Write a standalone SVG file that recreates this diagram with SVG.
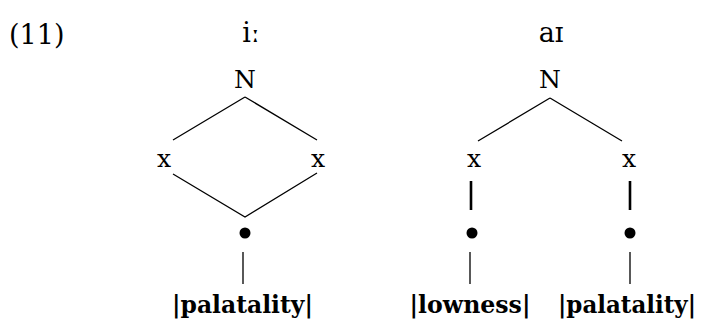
<svg xmlns="http://www.w3.org/2000/svg" width="704" height="323" viewBox="0 0 704 323">
<style>
text{font-family:"DejaVu Serif","Liberation Serif",serif;font-size:25px;fill:#000}
.c{text-anchor:middle}
.t{font-size:27px}
.b{font-weight:bold;font-size:24px}
.ln{stroke:#000;stroke-width:1.3;fill:none}
.th{stroke:#000;stroke-width:2.6;fill:none}
</style>
<rect width="704" height="323" fill="#fff"/>
<g id="label"><text class="t" x="9" y="44">(11)</text></g>
<g id="title-left"><text class="c t" x="251" y="42">iː</text></g>
<g id="title-right"><text class="c t" x="551" y="42">aɪ</text></g>
<g id="N1"><text class="c" x="245" y="88">N</text></g>
<g id="N2"><text class="c" x="550" y="88">N</text></g>
<g id="x1"><text class="c" x="164" y="167">x</text></g>
<g id="x2"><text class="c" x="318" y="167">x</text></g>
<g id="x3"><text class="c" x="474" y="167">x</text></g>
<g id="x4"><text class="c" x="629" y="167">x</text></g>
<g id="dot1"><circle cx="245" cy="233" r="5.5"/></g>
<g id="dot2"><circle cx="472" cy="233" r="5.5"/></g>
<g id="dot3"><circle cx="630" cy="233" r="5.5"/></g>
<g id="el1"><text class="c b" x="242.5" y="313" textLength="141" lengthAdjust="spacingAndGlyphs">|palatality|</text></g>
<g id="el2"><text class="c b" x="470" y="313" textLength="121" lengthAdjust="spacingAndGlyphs">|lowness|</text></g>
<g id="el3"><text class="c b" x="627" y="313" textLength="138" lengthAdjust="spacingAndGlyphs">|palatality|</text></g>
<g id="connectors">
<path class="ln" d="M245,97 L173,140 M245,97 L317,140"/>
<path class="ln" d="M550,98 L478,141 M550,98 L622,141"/>
<path class="ln" d="M173,174 L245,217 L317,173"/>
<path class="th" d="M471,181 V210 M630,181 V210"/>
<path class="ln" d="M243,252 V284 M470,252 V284 M630,252 V284"/>
</g>
</svg>
